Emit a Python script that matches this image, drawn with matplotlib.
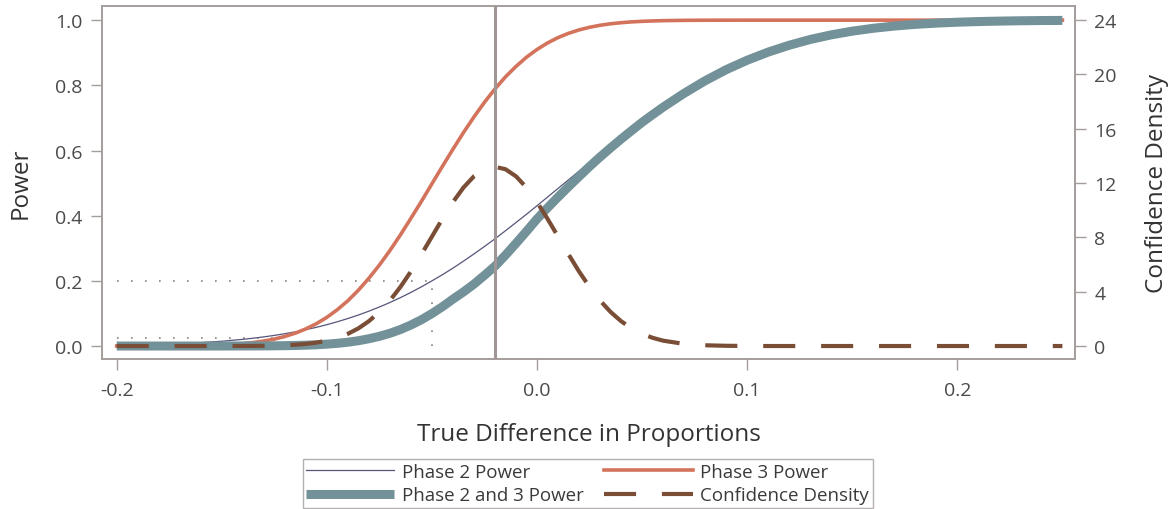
import numpy as np
import matplotlib
matplotlib.use("Agg")
import matplotlib.pyplot as plt

# true difference in proportions (finer spacing where the curves bend)
diff = [-0.20, -0.19, -0.18, -0.17, -0.16, -0.15, -0.14,
        -0.135, -0.13, -0.125, -0.12, -0.115, -0.11, -0.105, -0.10, -0.095, -0.09,
        -0.085, -0.08, -0.075, -0.07, -0.065, -0.06, -0.055, -0.05, -0.045, -0.04,
        -0.035, -0.03, -0.025, -0.02, -0.015, -0.01, -0.005, 0.0, 0.005, 0.01,
        0.015, 0.02, 0.025, 0.03, 0.035, 0.04, 0.045, 0.05, 0.055, 0.06,
        0.07, 0.08, 0.09, 0.10, 0.11, 0.12, 0.13, 0.14, 0.15, 0.16,
        0.17, 0.18, 0.19, 0.20, 0.21, 0.22, 0.23, 0.24, 0.25]

phase2_power = [0.0022, 0.0034, 0.0050, 0.0073, 0.0104, 0.0147, 0.0205,
                0.0240, 0.0281, 0.0326, 0.0378, 0.0436, 0.0501, 0.0574, 0.0655, 0.0745, 0.0844,
                0.0951, 0.107, 0.1198, 0.1335, 0.1485, 0.1645, 0.1817, 0.200, 0.2189, 0.239,
                0.2604, 0.2826, 0.3055, 0.329, 0.3538, 0.379, 0.4044, 0.4305, 0.457, 0.4836,
                0.510, 0.5367, 0.563, 0.589, 0.615, 0.640, 0.665, 0.689, 0.712, 0.734,
                0.776, 0.814, 0.848, 0.877, 0.902, 0.923, 0.9407, 0.9549, 0.9662, 0.9751,
                0.9819, 0.9871, 0.9909, 0.9937, 0.9957, 0.9971, 0.9981, 0.9988, 0.9992]

phase3_power = [0.0, 0.0001, 0.0002, 0.0006, 0.0015, 0.0035, 0.0075,
                0.0108, 0.0154, 0.0213, 0.0294, 0.0395, 0.0526, 0.0684, 0.088, 0.1116, 0.139,
                0.1713, 0.208, 0.2485, 0.293, 0.341, 0.392, 0.444, 0.498, 0.5515, 0.604,
                0.655, 0.703, 0.748, 0.789, 0.826, 0.858, 0.8863, 0.910, 0.930, 0.9465,
                0.9596, 0.970, 0.9781, 0.9843, 0.9889, 0.9922, 0.9947, 0.9964, 0.9976, 0.9985,
                0.9994, 0.9998, 0.9999, 1.0, 1.0, 1.0, 1.0, 1.0, 1.0, 1.0,
                1.0, 1.0, 1.0, 1.0, 1.0, 1.0, 1.0, 1.0, 1.0]

phase23_power = [0.0, 0.0, 0.0, 0.0, 0.0, 0.0001, 0.0002,
                 0.0003, 0.0004, 0.0007, 0.0011, 0.0017, 0.0026, 0.0039, 0.0058, 0.0083, 0.0117,
                 0.0163, 0.0223, 0.0298, 0.0391, 0.0506, 0.0645, 0.0807, 0.0996, 0.1207, 0.144,
                 0.166, 0.19, 0.217, 0.245, 0.279, 0.315, 0.352, 0.39, 0.424, 0.457,
                 0.489, 0.52, 0.551, 0.58, 0.608, 0.635, 0.661, 0.6865, 0.710, 0.733,
                 0.7755, 0.814, 0.848, 0.877, 0.902, 0.923, 0.9407, 0.9549, 0.9662, 0.9751,
                 0.9819, 0.9871, 0.9909, 0.9937, 0.9957, 0.9971, 0.9981, 0.9988, 0.9992]

conf_density = [0.0, 0.0, 0.0, 0.0, 0.0, 0.001, 0.005,
                0.009, 0.017, 0.031, 0.055, 0.094, 0.155, 0.251, 0.395, 0.605, 0.899,
                1.30, 1.83, 2.51, 3.35, 4.35, 5.49, 6.75, 8.06, 9.37, 10.6,
                11.67, 12.5, 13.02, 13.2, 13.02, 12.5, 11.67, 10.6, 9.37, 8.06,
                6.75, 5.49, 4.35, 3.35, 2.51, 1.83, 1.30, 0.899, 0.605, 0.395,
                0.155, 0.055, 0.017, 0.005, 0.0, 0.0, 0.0, 0.0, 0.0, 0.0,
                0.0, 0.0, 0.0, 0.0, 0.0, 0.0, 0.0, 0.0, 0.0]

observed_diff = -0.02
ref_x = -0.05
ref_power = 0.2
alpha_x = -0.1225
alpha_power = 0.025

plt.rcParams['font.family'] = ['Open Sans', 'DejaVu Sans']
axcol = '#A59C9C'
txtcol = '#333333'

fig = plt.figure(figsize=(11.75, 5.1), dpi=100)
ax = fig.add_axes([0.0868, 0.294, 0.8281, 0.692])
ax2 = ax.twinx()

# reference dotted lines
dot = (0, (1, 7.4))
ax.plot([-0.2, ref_x], [ref_power, ref_power], color='#8A8080', lw=1.2, ls=dot, zorder=1)
ax.plot([ref_x, ref_x], [0, ref_power], color='#8A8080', lw=1.2, ls=dot, zorder=1)
ax.plot([-0.2, alpha_x], [alpha_power, alpha_power], color='#8A8080', lw=1.2, ls=dot, zorder=1)

l2, = ax.plot(diff, phase2_power, color='#55557A', lw=0.9, label='Phase 2 Power', zorder=2)
l3, = ax.plot(diff, phase3_power, color='#D4735C', lw=2.6, label='Phase 3 Power', zorder=3)
l23, = ax.plot(diff, phase23_power, color='#739198', lw=6.5, label='Phase 2 and 3 Power',
               zorder=4, solid_capstyle='butt')
ld, = ax2.plot(diff, conf_density, color='#7A4E36', lw=3, dashes=(7.7, 6.2),
               label='Confidence Density', zorder=3)
ax2.axvline(observed_diff, color='#A09696', lw=2.2, zorder=5)

ax.set_xlim(-0.207, 0.256)
ax.set_ylim(-0.04, 1.043)
ax2.set_ylim(-0.04 * 24, 1.043 * 24)

ax.set_xticks([-0.2, -0.1, 0.0, 0.1, 0.2])
ax.set_xticklabels(['-0.2', '-0.1', '0.0', '0.1', '0.2'])
ax.set_yticks([0, 0.2, 0.4, 0.6, 0.8, 1.0])
ax.set_yticklabels(['0.0', '0.2', '0.4', '0.6', '0.8', '1.0'])
ax2.set_yticks([0, 4, 8, 12, 16, 20, 24])

for a in (ax, ax2):
    for s in a.spines.values():
        s.set_color(axcol)
        s.set_linewidth(1.2)
    a.tick_params(direction='out', length=8, width=1, color=axcol, labelcolor='#4A4A4A',
                  labelsize=14, pad=6)
ax.tick_params(axis='x', pad=8)

ax.set_xlabel('True Difference in Proportions', fontsize=17.5, color=txtcol, labelpad=16)
ax.set_ylabel('Power', fontsize=17.5, color=txtcol, labelpad=16)
ax2.set_ylabel('Confidence Density', fontsize=17.5, color=txtcol, labelpad=20)

leg = fig.legend(handles=[l2, l23, l3, ld], loc='upper center', bbox_to_anchor=(0.5, 0.098),
                 ncol=2, fontsize=13.5, frameon=True, fancybox=False, edgecolor=axcol,
                 handlelength=4.7, columnspacing=1.1, handletextpad=0.4,
                 borderpad=0.2, labelspacing=0.3, borderaxespad=0, labelcolor='#3A3A3A')
leg.get_frame().set_linewidth(1.0)

fig.savefig('out.png', dpi=100)
